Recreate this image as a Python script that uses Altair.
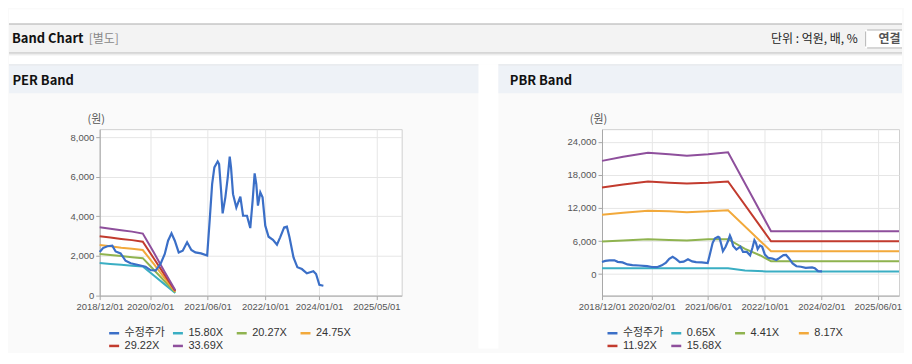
import altair as alt
import pandas as pd

# ---------------- data ----------------
price_dates = [
    "2018-12-01", "2018-12-29", "2019-02-04", "2019-03-18", "2019-04-15", "2019-05-27",
    "2019-07-08", "2019-08-20", "2019-10-15", "2019-12-24", "2020-02-04", "2020-03-18",
    "2020-04-29", "2020-06-04", "2020-07-02", "2020-07-31", "2020-08-28", "2020-09-30",
    "2020-11-03", "2020-12-10", "2021-01-15", "2021-02-18", "2021-04-07", "2021-05-29",
    "2021-06-20", "2021-07-10", "2021-07-29", "2021-08-26", "2021-09-07", "2021-09-24",
    "2021-10-07", "2021-10-30", "2021-11-19", "2021-12-06", "2021-12-17", "2022-01-03",
    "2022-01-31", "2022-03-06", "2022-03-29", "2022-05-01", "2022-05-29", "2022-06-18",
    "2022-07-05", "2022-07-19", "2022-08-02", "2022-08-22", "2022-09-10", "2022-10-03",
    "2022-10-31", "2022-12-07", "2023-01-10", "2023-02-06", "2023-03-12", "2023-04-04",
    "2023-04-26", "2023-05-30", "2023-07-02", "2023-08-09", "2023-09-20", "2023-10-18",
    "2023-11-14", "2023-12-07", "2024-01-04", "2024-02-07",
]
price_values = [
    2200, 2400, 2490, 2520, 2230, 2130,
    1760, 1630, 1560, 1460, 1290, 1260,
    1600, 2100, 2770, 3140, 2770, 2180,
    2270, 2690, 2300, 2180, 2130, 2020,
    3860, 5630, 6470, 6770, 6640, 5290,
    4150, 4960, 5960, 7010, 6470, 5120,
    4450, 4990, 4030, 4030, 3410, 4790,
    6170, 5630, 4540, 5210, 4960, 3530,
    2970, 2820, 2570, 2940, 3440, 3480,
    2940, 1930, 1430, 1340, 1130, 1180,
    1230, 1090, 540, 500,
]

per_band_dates = ["2018-12-01", "2019-03-01", "2019-06-01", "2019-09-01",
                  "2019-12-01", "2020-03-01", "2020-06-01", "2020-09-01"]
per_15_80 = [1640, 1600, 1560, 1510, 1470, 1030, 580, 130]
per_20_27 = [2100, 2050, 2000, 1940, 1890, 1320, 740, 165]
per_24_75 = [2560, 2490, 2420, 2370, 2300, 1610, 900, 200]
per_29_22 = [3000, 2930, 2860, 2800, 2720, 1900, 1060, 235]
per_33_69 = [3450, 3380, 3300, 3230, 3130, 2200, 1220, 270]

pbr_main_dates = ["2018-12-01", "2019-06-01", "2020-01-01", "2020-07-01", "2020-12-01",
                  "2021-06-01", "2021-11-20", "2022-11-25", "2025-12-01"]
pbr_15_68 = [20550, 21300, 22000, 21750, 21500, 21750, 22100, 7780, 7780]
pbr_11_92 = [15720, 16250, 16800, 16600, 16450, 16570, 16800, 5960, 5960]
pbr_8_17 = [10790, 11150, 11510, 11400, 11210, 11390, 11570, 4160, 4160]
pbr_green_dates = ["2018-12-01", "2019-06-01", "2020-01-01", "2020-07-01", "2020-12-01",
                   "2021-06-01", "2021-11-20", "2022-04-15", "2022-08-25", "2022-11-25",
                   "2025-12-01"]
pbr_4_41 = [5910, 6120, 6330, 6200, 6090, 6330, 6330, 4590, 3380, 2350, 2350]
pbr_teal_dates = ["2018-12-01", "2021-11-20", "2022-04-15", "2022-10-15", "2025-12-01"]
pbr_0_65 = [1080, 1080, 670, 480, 480]

per_series = ["수정주가", "15.80X", "20.27X", "24.75X", "29.22X", "33.69X"]
pbr_series = ["수정주가", "0.65X", "4.41X", "8.17X", "11.92X", "15.68X"]
series_colors = ["#3b6fc7", "#3aaec3", "#8fb34f", "#f2a93b", "#c23b2e", "#8e4f9c"]

per_y_ticks = [0, 2000, 4000, 6000, 8000]
pbr_y_ticks = [0, 6000, 12000, 18000, 24000]
per_x_ticks = ["2018-12-01", "2020-02-01", "2021-06-01", "2022-10-01", "2024-01-01", "2025-05-01"]
pbr_x_ticks = ["2018-12-01", "2020-02-01", "2021-06-01", "2022-10-01", "2024-02-01", "2025-06-01"]
x_domain = ["2018-12-01", "2025-12-01"]


def long_df(dates, values, name):
    return pd.DataFrame({"date": dates, "value": values, "series": name})


per_bands_df = pd.concat([
    long_df(per_band_dates, v, n)
    for n, v in zip(per_series[1:], [per_15_80, per_20_27, per_24_75, per_29_22, per_33_69])
], ignore_index=True)
pbr_bands_df = pd.concat([
    long_df(pbr_teal_dates, pbr_0_65, pbr_series[1]),
    long_df(pbr_green_dates, pbr_4_41, pbr_series[2]),
    long_df(pbr_main_dates, pbr_8_17, pbr_series[3]),
    long_df(pbr_main_dates, pbr_11_92, pbr_series[4]),
    long_df(pbr_main_dates, pbr_15_68, pbr_series[5]),
], ignore_index=True)
price_df = long_df(price_dates, price_values, "수정주가")


def dt(s):
    y, m, d = (int(p) for p in s.split("-"))
    return alt.DateTime(year=y, month=m, date=d, utc=True)


# ---------------- decorations (page layout) ----------------
OX, OY = 99, 128  # PER plot origin on the page
KR = "Noto Sans CJK KR"
one = pd.DataFrame({"k": [0]})


def rect(x1, y1, x2, y2, fill):
    return alt.Chart(one).mark_rect(fill=fill, strokeWidth=0).encode(
        x=alt.value(x1 - OX), x2=alt.value(x2 - OX),
        y=alt.value(y1 - OY), y2=alt.value(y2 - OY))


def hline(x1, x2, y, color):
    return alt.Chart(one).mark_rule(color=color, strokeWidth=1).encode(
        x=alt.value(x1 - OX), x2=alt.value(x2 - OX), y=alt.value(y - OY))


def vline(x, y1, y2, color):
    return alt.Chart(one).mark_rule(color=color, strokeWidth=1).encode(
        x=alt.value(x - OX), y=alt.value(y1 - OY), y2=alt.value(y2 - OY))


def label(x, y, s, size, color, weight="normal", align="left"):
    return alt.Chart(one).mark_text(
        font=KR, fontSize=size, fontWeight=weight, color=color,
        align=align, baseline="middle").encode(
        x=alt.value(x - OX), y=alt.value(y - OY), text=alt.value(s))


decor = [
    rect(8, 8, 904, 63, "white"),
    rect(8, 23, 904, 51, "#f3f3f3"),
    hline(8, 904, 22.5, "#aaaaaa"),
    hline(8, 904, 51.5, "#bcbcbc"),
    hline(8, 904, 52.5, "#d6d6d6"),
    hline(8, 904, 53.5, "#ececec"),
    rect(479, 63, 499, 348, "white"),
    rect(8, 64, 479, 92, "#eef2f7"),
    rect(499, 64, 904, 92, "#eef2f7"),
    hline(8, 479, 63.5, "#dde1e6"),
    hline(499, 904, 63.5, "#dde1e6"),
    rect(867, 28.5, 904, 46.5, "white"),
    hline(869, 904, 28.5, "#b5b5b5"),
    hline(869, 904, 46.5, "#b5b5b5"),
    vline(867.5, 30, 45, "#b5b5b5"),
    label(11, 38, "Band Chart", 13, "#111111", "bold"),
    label(88, 38, "[별도]", 12, "#888888"),
    label(859.5, 38, "단위 : 억원, 배, %", 12, "#222222", align="right"),
    label(891.5, 37.5, "연결", 12, "#555555", "bold", align="center"),
    label(11.5, 80, "PER Band", 13, "#111111", "bold"),
    label(510.5, 80, "PBR Band", 13, "#111111", "bold"),
]


# ---------------- panels ----------------
def panel(bands_df, series, x_ticks, y_dom, y_ticks, width, legend_x, extra=()):
    x = alt.X("date:T", title=None,
              scale=alt.Scale(type="utc", domain=[dt(x_domain[0]), dt(x_domain[1])]),
              axis=alt.Axis(values=[dt(s) for s in x_ticks], format="%Y/%m/%d",
                            labelAngle=0, labelFlush=False, labelOverlap=False,
                            labelPadding=2))
    y = alt.Y("value:Q",
              scale=alt.Scale(domain=y_dom, nice=False, zero=False),
              axis=alt.Axis(values=y_ticks, format=",d", labelPadding=2,
                            title="(원)", titleAngle=0, titleX=-4, titleY=-10,
                            titleAlign="center", titleBaseline="middle"))
    color = alt.Color("series:N",
                      scale=alt.Scale(domain=series, range=series_colors),
                      legend=alt.Legend(
                          title=None, orient="none", legendX=legend_x, legendY=198,
                          direction="horizontal", columns=4, gridAlign="all",
                          symbolType="stroke", symbolSize=100, symbolStrokeWidth=2.5,
                          labelFont="Liberation Sans, Noto Sans CJK KR", labelFontSize=11,
                          labelColor="#333333", labelOffset=4, columnPadding=2,
                          rowPadding=1, padding=0))
    bands = alt.Chart(bands_df).mark_line(strokeWidth=2).encode(x=x, y=y, color=color)
    price = alt.Chart(price_df).mark_line(strokeWidth=2.2).encode(x=x, y=y, color=color)
    return alt.layer(*extra, bands, price).properties(width=width, height=167)


per_panel = panel(per_bands_df, per_series, per_x_ticks, [0, 8400], per_y_ticks, 303, 8,
                  extra=decor)
pbr_panel = panel(pbr_bands_df, pbr_series, pbr_x_ticks, [-3900, 26300], pbr_y_ticks, 298, 4)

chart = alt.hconcat(
    per_panel, pbr_panel, spacing=201, bounds="flush", padding=0, background="#fafafa"
).resolve_scale(
    color="independent"
).configure_view(
    stroke="#d0d0d0", fill="white"
).configure_axis(
    labelFont="Liberation Sans", labelFontSize=9.5, labelColor="#555555",
    domainColor="#a8a8a8", tickColor="#a8a8a8", tickSize=4,
    gridColor="#e6e6e6", grid=True,
    titleFont=KR, titleFontSize=11, titleFontWeight="normal", titleColor="#555555"
)

chart.save("out.html", embed_options={"renderer": "svg", "actions": False})
